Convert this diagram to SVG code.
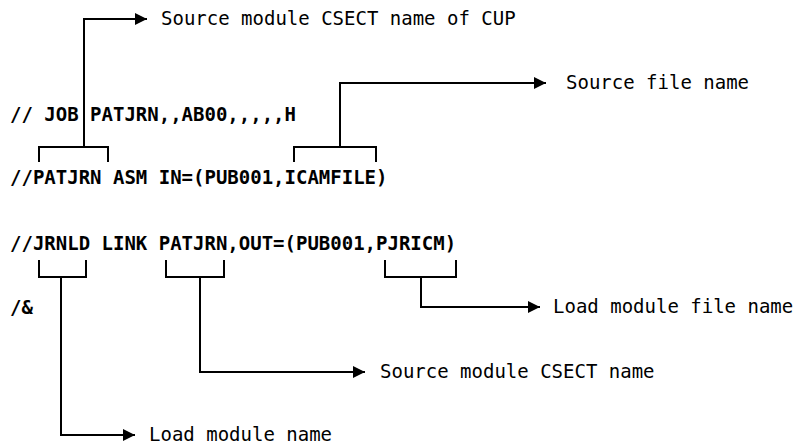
<svg xmlns="http://www.w3.org/2000/svg" width="795" height="447" viewBox="0 0 795 447">
<style>
.code{font-family:"DejaVu Sans Mono","Liberation Mono",monospace;font-size:19px;font-weight:bold;fill:#000}
.lbl{font-family:"DejaVu Sans Mono","Liberation Mono",monospace;font-size:19px;fill:#000}
.ln{fill:none;stroke:#000;stroke-width:2}
</style>
<defs>
<marker id="ah" viewBox="0 0 12 12" refX="12" refY="6" markerWidth="12" markerHeight="12" markerUnits="userSpaceOnUse" orient="auto">
<path d="M0,0 L12,6 L0,12 Z" fill="#000"/>
</marker>
</defs>
<rect width="795" height="447" fill="#fff"/>
<g id="code">
<text class="code" x="10" y="121">// JOB PATJRN,,AB00,,,,,H</text>
<text class="code" x="10" y="184">//PATJRN ASM IN=(PUB001,ICAMFILE)</text>
<text class="code" x="10" y="250">//JRNLD LINK PATJRN,OUT=(PUB001,PJRICM)</text>
<text class="code" x="10" y="314">/&amp;</text>
</g>
<g id="label-cup"><text class="lbl" x="161" y="25">Source module CSECT name of CUP</text></g>
<g id="label-srcfile"><text class="lbl" x="566" y="89">Source file name</text></g>
<g id="label-loadfile"><text class="lbl" x="553" y="313">Load module file name</text></g>
<g id="label-csect"><text class="lbl" x="380" y="378">Source module CSECT name</text></g>
<g id="label-loadname"><text class="lbl" x="149" y="441">Load module name</text></g>
<g id="connectors">
<path class="ln" d="M39,162 V147 H108 V162"/>
<path class="ln" d="M84,147 V19 H147" marker-end="url(#ah)"/>
<path class="ln" d="M294,162 V147 H376 V162"/>
<path class="ln" d="M340,147 V83 H546" marker-end="url(#ah)"/>
<path class="ln" d="M39,260 V277 H86 V260"/>
<path class="ln" d="M61,277 V435 H135" marker-end="url(#ah)"/>
<path class="ln" d="M166,260 V277 H224 V260"/>
<path class="ln" d="M200,277 V372 H365" marker-end="url(#ah)"/>
<path class="ln" d="M385,260 V277 H456 V260"/>
<path class="ln" d="M421,277 V307 H540" marker-end="url(#ah)"/>
</g>
</svg>
